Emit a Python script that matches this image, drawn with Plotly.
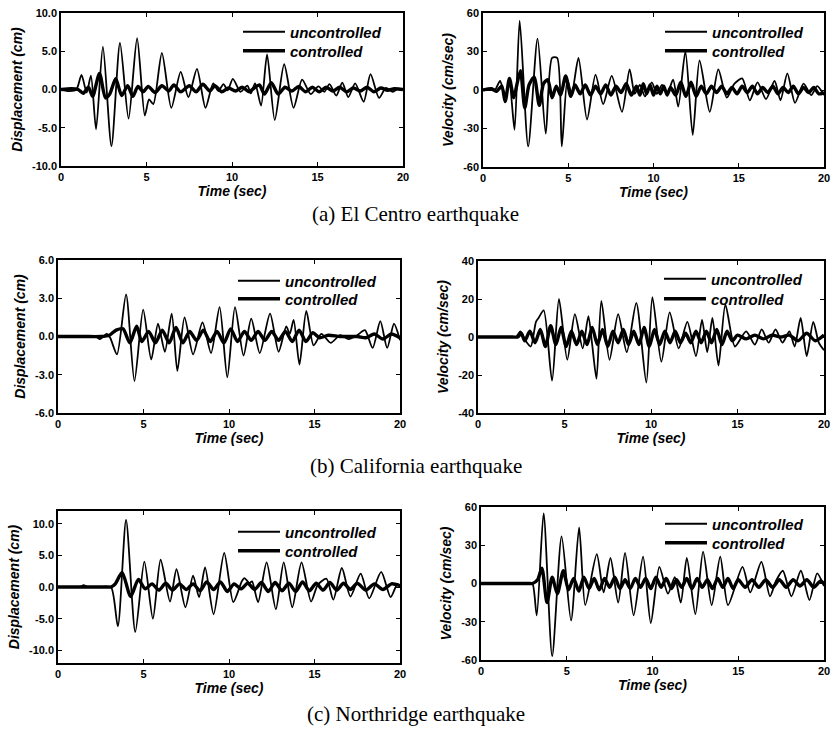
import plotly.graph_objects as go

# ---------------- DATA ----------------
time_ticks = [0, 5, 10, 15, 20]

# (a) El Centro - displacement (cm)
elc_disp_unc_t = [0, 0.5, 0.9, 1.2, 1.5, 1.75, 2.05, 2.45, 2.95, 3.45, 3.95, 4.45, 4.9, 5.15, 5.4, 5.9, 6.45, 7.0, 7.45, 7.95, 8.45, 8.9, 9.2, 9.5, 9.75, 10.05, 10.5, 10.9, 11.1, 11.35, 11.7, 12.05, 12.5, 13.05, 13.6, 14.1, 14.6, 15.05, 15.4, 15.7, 16.1, 16.45, 16.8, 17.2, 17.7, 18.1, 18.6, 19.0, 19.4, 19.7, 20]
elc_disp_unc_v = [0, -0.2, 0, 1.9, -0.4, 1.8, -5.2, 5.6, -7.4, 6.1, -3.8, 6.7, -3.4, -1.3, -1.9, 4.8, -2.4, 2.3, -1.0, 2.7, -2.4, 0.8, -0.2, 0.7, -0.1, 1.4, -0.3, 0.5, -0.5, 0.8, -2.1, 4.6, -4.0, 3.3, -2.4, 1.3, -0.6, 0.4, -0.3, 0.7, -0.8, 0.9, -1.0, 0.8, -1.6, 2.0, -1.1, 0.2, -0.3, 0.1, 0]
elc_disp_con_t = [0, 0.6, 1.0, 1.3, 1.6, 1.85, 2.25, 2.6, 2.85, 3.2, 3.55, 3.9, 4.2, 4.5, 4.8, 5.1, 5.5, 5.9, 6.3, 6.6, 7.0, 7.5, 7.9, 8.3, 8.7, 9.0, 9.4, 9.8, 10.2, 10.6, 11.0, 11.3, 11.6, 11.9, 12.3, 12.7, 13.1, 13.5, 13.9, 14.3, 14.7, 15.1, 15.5, 15.9, 16.3, 16.7, 17.1, 17.5, 17.9, 18.3, 18.7, 19.1, 19.5, 20]
elc_disp_con_v = [0, 0.1, 0, -0.5, 0.3, -0.9, 2.1, -1.1, -0.6, 1.4, -0.8, 0.5, -0.9, 0.4, -0.3, 0.4, -0.4, 0.5, -0.2, 0.6, -0.3, 0.5, -0.3, 0.7, -0.2, 0.5, -0.3, 0.2, -0.2, 0.3, -0.3, 0.2, 0.6, -0.6, 0.9, -0.6, 0.3, -0.2, 0.4, -0.3, 0.3, -0.3, 0.3, -0.2, 0.3, -0.3, 0.2, -0.2, 0.3, -0.3, 0.2, -0.1, 0.1, 0]

# (a) El Centro - velocity (cm/sec)
elc_vel_unc_t = [0, 0.4, 0.7, 1.0, 1.3, 1.55, 1.85, 2.15, 2.65, 3.2, 3.68, 4.05, 4.35, 4.62, 4.95, 5.2, 5.6, 6.1, 6.6, 7.05, 7.55, 8.15, 8.6, 8.9, 9.2, 9.5, 9.9, 10.2, 10.5, 10.8, 11.15, 11.45, 11.87, 12.3, 12.7, 13.3, 13.8, 14.3, 14.75, 15.2, 15.65, 16.1, 16.6, 17.1, 17.45, 17.85, 18.3, 18.8, 19.25, 19.6, 20]
elc_vel_unc_v = [0, 0, 0, 7, -5, 5, -31, 54, -44, 40, -34, 25, 25, -44, 8, -3, 25, -23, 12, -11, 11, -17, 16, -3, 4, -5, 6, -3, 4, -3, 8, -13, 30, -35, 23, -17, 16, -6, 5, 9, -8, 6, -7, 7, -8, 13, -10, 5, -4, 3, -4]
elc_vel_con_t = [0, 0.5, 0.8, 1.1, 1.3, 1.55, 1.8, 2.0, 2.2, 2.45, 2.7, 3.0, 3.3, 3.55, 3.8, 4.05, 4.3, 4.55, 4.85, 5.15, 5.4, 5.7, 6.0, 6.3, 6.6, 6.9, 7.2, 7.5, 7.8, 8.1, 8.4, 8.7, 9.0, 9.2, 9.4, 9.6, 9.8, 10.0, 10.2, 10.4, 10.6, 10.8, 11.0, 11.3, 11.6, 11.9, 12.2, 12.5, 12.8, 13.1, 13.4, 13.7, 14.0, 14.3, 14.6, 14.9, 15.2, 15.5, 15.8, 16.1, 16.4, 16.7, 17.0, 17.3, 17.6, 17.9, 18.2, 18.5, 18.8, 19.1, 19.4, 19.7, 20]
elc_vel_con_v = [0, 1, -1, 3, -9, 9, -6, 5, 15, -14, 4, 10, -12, 5, 8, -6, 3, -4, 11, -5, 4, -3, 4, -4, 3, -3, 4, -4, 3, -2, 5, -4, 3, -4, 5, -3, 4, -4, 3, -3, 3, -4, 2, -4, 6, -5, 6, -5, 3, -3, 3, -2, 3, -3, 2, -3, 3, -2, 3, -3, 2, -2, 3, -3, 2, -2, 3, -3, 2, -2, 2, -3, -2]

# (b) California - displacement (cm)
cal_disp_unc_t = [0, 1.0, 2.2, 2.45, 2.65, 2.85, 3.05, 3.45, 3.98, 4.47, 4.98, 5.45, 5.85, 6.25, 6.65, 6.98, 7.4, 7.9, 8.45, 8.95, 9.45, 9.9, 10.35, 10.85, 11.3, 11.8, 12.4, 12.9, 13.35, 13.55, 13.78, 14.12, 14.52, 14.95, 15.4, 15.95, 16.5, 17.0, 17.5, 17.95, 18.4, 18.85, 19.25, 19.65, 20]
cal_disp_unc_v = [0, 0, 0, -0.2, 0, 0.2, -0.1, -1.4, 3.3, -3.5, 2.1, -1.8, 1.0, -1.2, 1.8, -2.7, 1.5, -1.4, 1.1, -1.3, 2.3, -3.2, 2.3, -1.5, 1.4, -1.3, 1.8, -1.2, 0.8, 0.2, 1.3, -2.2, 2.0, -0.7, 0.2, -0.5, 0.1, -0.2, 0.1, 0.5, -0.9, 1.2, -0.9, 1.0, -0.3]
cal_disp_con_t = [0, 1.5, 2.5, 3.0, 3.4, 3.8, 4.2, 4.6, 4.9, 5.3, 5.7, 6.1, 6.5, 6.9, 7.3, 7.7, 8.1, 8.5, 8.9, 9.3, 9.7, 10.1, 10.5, 10.9, 11.3, 11.7, 12.1, 12.5, 12.9, 13.3, 13.7, 14.1, 14.5, 14.9, 15.3, 15.8, 16.5, 17.5, 18.0, 18.5, 19.0, 19.5, 20]
cal_disp_con_v = [0, 0, 0, 0.1, 0.5, 0.6, -0.5, 0.8, -0.4, 0.4, -0.5, 0.5, -0.5, 0.7, -0.5, 0.4, -0.3, 0.5, -0.4, 0.4, -0.5, 0.6, -0.4, 0.4, -0.3, 0.4, -0.3, 0.4, -0.3, 0.4, -0.4, 0.5, -0.4, 0.3, -0.1, 0.1, 0, 0, -0.1, 0.2, -0.2, 0.2, -0.1]

# (b) California - velocity (cm/sec)
cal_vel_unc_t = [0, 1.0, 2.0, 2.2, 2.45, 2.75, 3.05, 3.35, 3.5, 3.8, 4.28, 4.68, 5.16, 5.6, 6.05, 6.38, 6.6, 6.85, 7.13, 7.6, 8.1, 8.6, 9.15, 9.73, 10.08, 10.6, 11.08, 11.6, 12.1, 12.6, 12.95, 13.25, 13.55, 13.9, 14.3, 14.85, 15.5, 16.0, 16.4, 16.8, 17.2, 17.6, 18.0, 18.3, 18.65, 19.0, 19.38, 19.7, 20]
cal_vel_unc_v = [0, 0, 0, 0, 3, -2, -5, 8, 10, 14, -23, 20, -12, 12, -6, 11, -4, -22, 19, -12, 12, -8, 18, -24, 21, -13, 13, -6, 8, -10, 9, -8, 10, -15, 17, -5, 3, -4, 4, -3, 4, -3, 3, -5, 10, -10, 8, -3, -7]
cal_vel_con_t = [0, 1.0, 2.0, 2.3, 2.5, 2.7, 3.0, 3.3, 3.6, 3.9, 4.2, 4.5, 4.8, 5.1, 5.4, 5.7, 6.0, 6.3, 6.6, 6.9, 7.2, 7.5, 7.8, 8.1, 8.4, 8.7, 9.0, 9.3, 9.6, 9.9, 10.2, 10.5, 10.8, 11.1, 11.4, 11.7, 12.0, 12.3, 12.6, 12.9, 13.2, 13.5, 13.8, 14.1, 14.4, 14.7, 15.0, 15.5, 16.0, 16.5, 17.0, 17.5, 18.0, 18.5, 19.0, 19.5, 20]
cal_vel_con_v = [0, 0, 0, 0, 2, -2, 3, -3, 4, -5, 6, -4, 5, -5, 3, -4, 3, -4, 5, -4, 4, -5, 3, -3, 4, -4, 3, -4, 5, -5, 4, -4, 3, -3, 3, -3, 2, -3, 3, -3, 3, -3, 4, -4, 3, -2, 1, -1, 1, -1, 1, 0, 1, -2, 2, -2, 1]

# (c) Northridge - displacement (cm)
nor_disp_unc_t = [0, 1.0, 1.3, 1.5, 1.7, 2.0, 2.6, 3.1, 3.5, 3.98, 4.52, 5.05, 5.55, 6.0, 6.55, 6.93, 7.45, 7.9, 8.25, 8.6, 9.1, 9.72, 10.25, 10.75, 10.9, 11.2, 11.35, 11.7, 12.2, 12.74, 13.2, 13.7, 14.24, 14.8, 15.2, 15.7, 16.1, 16.6, 17.1, 17.7, 18.2, 18.9, 19.45, 19.85, 20]
nor_disp_unc_v = [0, 0, 0, 0.3, 0, 0, 0, 0, -6.2, 10.6, -7.1, 4.0, -5.0, 4.3, -2.3, 2.8, -3.2, 1.8, -1.6, 3.1, -4.3, 5.4, -2.4, 0.9, 1.4, 0.6, 0.9, -2.4, 3.9, -3.5, 3.9, -3.2, 3.9, -2.3, 0.4, 1.3, -2.0, 3.0, -1.5, 2.1, -1.8, 2.4, -1.6, 0.5, 0]
nor_disp_con_t = [0, 1.5, 2.8, 3.1, 3.35, 3.75, 4.25, 4.7, 5.1, 5.5, 5.9, 6.3, 6.7, 7.1, 7.5, 7.9, 8.3, 8.7, 9.1, 9.5, 9.9, 10.3, 10.7, 11.1, 11.5, 11.9, 12.3, 12.7, 13.1, 13.5, 13.9, 14.3, 14.7, 15.1, 15.5, 15.9, 16.3, 16.7, 17.1, 17.5, 18.0, 18.5, 19.0, 19.5, 20]
nor_disp_con_v = [0, 0, 0, 0, 0.5, 2.3, -1.5, 1.2, -0.3, 0.5, -0.5, 0.6, -0.5, 0.5, -0.4, 0.5, -0.6, 0.8, -0.4, 0.8, -0.7, 0.5, -0.3, 0.6, -0.4, 0.7, -0.7, 0.7, -0.6, 0.6, -0.7, 0.8, -0.6, 0.6, -0.5, 0.7, -0.5, 0.6, -0.4, 0.6, -0.5, 0.5, -0.4, 0.5, 0.2]

# (c) Northridge - velocity (cm/sec)
nor_vel_unc_t = [0, 1.0, 2.0, 2.8, 3.0, 3.25, 3.65, 4.15, 4.7, 5.25, 5.72, 6.08, 6.75, 7.15, 7.55, 8.0, 8.4, 8.9, 9.45, 9.9, 10.4, 10.9, 11.3, 11.65, 12.0, 12.5, 12.95, 13.45, 13.95, 14.4, 15.25, 15.7, 16.35, 16.85, 17.2, 17.6, 18.1, 18.65, 19.15, 19.6, 20]
nor_vel_unc_v = [0, 0, 0, 0, 0, -25, 55, -57, 37, -29, 44, -17, 23, -7, 20, -15, 24, -25, 21, -31, 13, -8, 5, -15, 20, -24, 25, -17, 21, -17, 13, -7, 17, -10, 2, 10, -10, 10, -13, 8, -2]
nor_vel_con_t = [0, 1.0, 2.0, 2.8, 3.0, 3.3, 3.55, 3.85, 4.15, 4.45, 4.8, 5.1, 5.4, 5.7, 6.0, 6.3, 6.6, 6.9, 7.2, 7.5, 7.8, 8.1, 8.4, 8.7, 9.0, 9.3, 9.6, 9.9, 10.2, 10.5, 10.8, 11.1, 11.4, 11.7, 12.0, 12.3, 12.6, 12.9, 13.2, 13.5, 13.8, 14.1, 14.4, 14.7, 15.0, 15.4, 15.8, 16.2, 16.6, 17.0, 17.4, 17.8, 18.2, 18.6, 19.0, 19.4, 19.8, 20]
nor_vel_con_v = [0, 0, 0, 0, 0, 3, 12, -15, 5, -8, 10, -5, 4, -6, 5, -4, 4, -5, 4, -3, 5, -4, 3, -4, 4, -3, 4, -4, 5, -3, 4, -4, 3, -3, 4, -4, 4, -3, 3, -4, 4, -3, 4, -4, 3, -3, 3, -3, 3, -3, 3, -3, 3, -2, 3, -3, 2, 0]

disp_ticks_a = [-10, -5, 0, 5, 10]
vel_ticks_a = [-60, -30, 0, 30, 60]
disp_ticks_b = [-6, -3, 0, 3, 6]
vel_ticks_b = [-40, -20, 0, 20, 40]
disp_ticks_c = [-10, -5, 0, 5, 10]
vel_ticks_c = [-60, -30, 0, 30, 60]

captions = ["(a) El Centro earthquake", "(b) California earthquake", "(c) Northridge earthquake"]
series_names = ["uncontrolled", "controlled"]

# ---------------- LAYOUT ----------------
W, H = 831, 729
SANS = "Liberation Sans, Arial, sans-serif"
SERIF = "Liberation Serif, Times New Roman, serif"

# panel boxes in pixels: (x0, x1, y_top, y_bottom); legend: (x, y_unc, y_con)
panels = [
    dict(box=(61, 403, 13, 166), t_unc=elc_disp_unc_t, v_unc=elc_disp_unc_v, t_con=elc_disp_con_t, v_con=elc_disp_con_v,
         yrange=(-10, 10), yticks=disp_ticks_a, yfmt=".1f", ytitle="Displacement (cm)", leg=(238, 32, 51)),
    dict(box=(483, 824, 13, 167), t_unc=elc_vel_unc_t, v_unc=elc_vel_unc_v, t_con=elc_vel_con_t, v_con=elc_vel_con_v,
         yrange=(-60, 60), yticks=vel_ticks_a, yfmt="d", ytitle="Velocity (cm/sec)", leg=(660, 32, 51)),
    dict(box=(58, 400, 260, 413), t_unc=cal_disp_unc_t, v_unc=cal_disp_unc_v, t_con=cal_disp_con_t, v_con=cal_disp_con_v,
         yrange=(-6, 6), yticks=disp_ticks_b, yfmt=".1f", ytitle="Displacement (cm)", leg=(233, 281, 299)),
    dict(box=(478, 824, 261, 413), t_unc=cal_vel_unc_t, v_unc=cal_vel_unc_v, t_con=cal_vel_con_t, v_con=cal_vel_con_v,
         yrange=(-40, 40), yticks=vel_ticks_b, yfmt="d", ytitle="Velocity (cm/sec)", leg=(659, 279, 299)),
    dict(box=(58, 400, 511, 663), t_unc=nor_disp_unc_t, v_unc=nor_disp_unc_v, t_con=nor_disp_con_t, v_con=nor_disp_con_v,
         yrange=(-12, 12), yticks=disp_ticks_c, yfmt=".1f", ytitle="Displacement (cm)", leg=(233, 532, 551)),
    dict(box=(481, 824, 507, 660), t_unc=nor_vel_unc_t, v_unc=nor_vel_unc_v, t_con=nor_vel_con_t, v_con=nor_vel_con_v,
         yrange=(-60, 60), yticks=vel_ticks_c, yfmt="d", ytitle="Velocity (cm/sec)", leg=(660, 524, 543)),
]

fig = go.Figure()
layout = dict(
    width=W, height=H, margin=dict(l=0, r=0, t=0, b=0, autoexpand=False),
    paper_bgcolor="white", plot_bgcolor="white", showlegend=True,
    font=dict(family=SANS, color="black"),
)

leg_font = dict(family=SANS, size=15, weight="bold", style="italic", color="black")

for i, p in enumerate(panels):
    n = "" if i == 0 else str(i + 1)
    xa, ya = "x" + n, "y" + n
    lg_u = "legend" + ("" if i == 0 else str(2 * i + 1))
    lg_c = "legend" + str(2 * i + 2)
    x0, x1, yt, yb = p["box"]
    common = dict(showline=True, linecolor="black", linewidth=1.5, mirror="ticks",
                  ticks="inside", ticklen=4, tickwidth=1, tickcolor="black",
                  showgrid=False, zeroline=False, automargin=False,
                  tickfont=dict(family=SANS, size=11, weight="bold", color="black"))
    layout["xaxis" + n] = dict(common, domain=[x0 / W, x1 / W], anchor=ya, range=[0, 20],
                               tickvals=time_ticks, ticktext=[str(t) for t in time_ticks],
                               title=dict(text="Time (sec)", standoff=0,
                                          font=dict(family=SANS, size=14, weight="bold", style="italic")))
    layout["yaxis" + n] = dict(common, domain=[1 - yb / H, 1 - yt / H], anchor=xa, range=list(p["yrange"]),
                               tickvals=p["yticks"], ticktext=[format(v, p["yfmt"]) for v in p["yticks"]],
                               title=dict(text=p["ytitle"], standoff=6,
                                          font=dict(family=SANS, size=14, weight="bold", style="italic")))
    lx, ly_u, ly_c = p["leg"]
    for lg, ly in ((lg_u, ly_u), (lg_c, ly_c)):
        layout[lg] = dict(x=lx / W, y=1 - ly / H, xanchor="left", yanchor="middle", bgcolor="rgba(0,0,0,0)",
                          borderwidth=0, itemwidth=42, tracegroupgap=0, font=leg_font)
    fig.add_trace(go.Scatter(x=p["t_unc"], y=p["v_unc"], mode="lines", name=series_names[0],
                             line=dict(color="black", width=1.8, shape="spline", smoothing=0.7),
                             xaxis=xa, yaxis=ya, legend=lg_u))
    fig.add_trace(go.Scatter(x=p["t_con"], y=p["v_con"], mode="lines", name=series_names[1],
                             line=dict(color="black", width=3.4, shape="spline", smoothing=0.7),
                             xaxis=xa, yaxis=ya, legend=lg_c))

cap_y = [214, 466, 714]
layout["annotations"] = [
    dict(text=c, x=0.5, y=1 - cy / H, xref="paper", yref="paper", xanchor="center", yanchor="middle",
         showarrow=False, font=dict(family=SERIF, size=21, color="black"))
    for c, cy in zip(captions, cap_y)
]

fig.update_layout(**layout)
fig.write_html("out.html", config={"displayModeBar": False},
               post_script="document.body.style.margin='0';")
